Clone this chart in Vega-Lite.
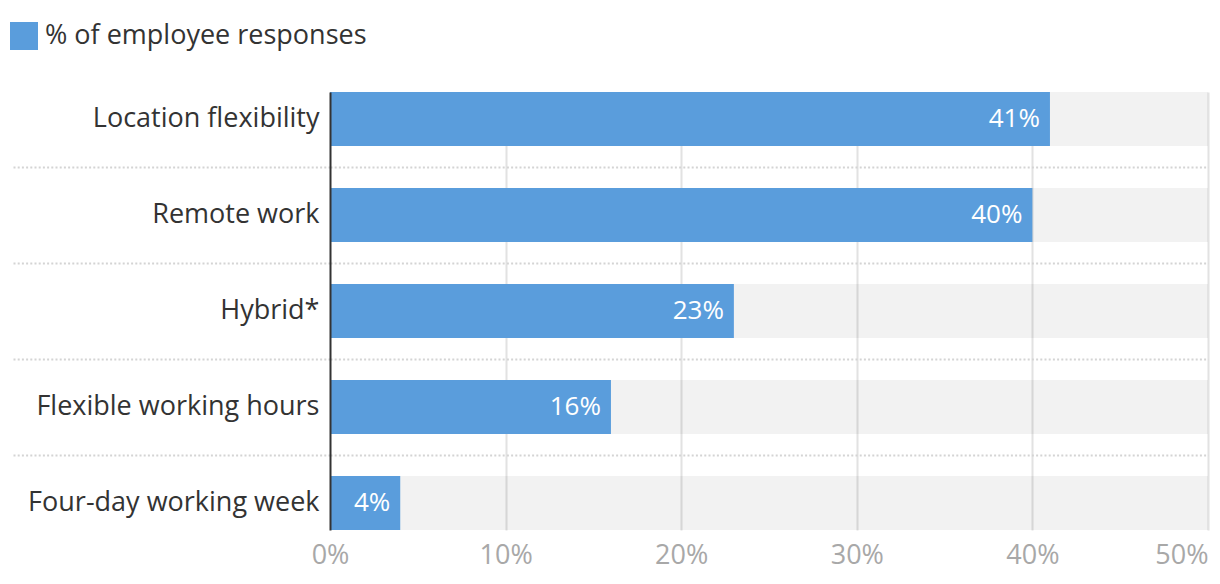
{
  "$schema": "https://vega.github.io/schema/vega-lite/v6.json",
  "width": 878,
  "height": 438,
  "autosize": "none",
  "padding": {"left": 330, "top": 92, "right": 12, "bottom": 54},
  "config": {"view": {"stroke": null}, "font": "Open Sans"},
  "data": {
    "values": [
      {"category": "Location flexibility", "value": 41, "label": "41%"},
      {"category": "Remote work", "value": 40, "label": "40%"},
      {"category": "Hybrid*", "value": 23, "label": "23%"},
      {"category": "Flexible working hours", "value": 16, "label": "16%"},
      {"category": "Four-day working week", "value": 4, "label": "4%"}
    ]
  },
  "encoding": {
    "y": {
      "field": "category",
      "type": "nominal",
      "sort": null,
      "scale": {"paddingInner": 0.4375, "paddingOuter": 0},
      "axis": {
        "title": null,
        "zindex": 1,
        "domain": true,
        "domainColor": "#333333",
        "domainWidth": 2,
        "ticks": true,
        "bandPosition": 1.3889,
        "tickSize": 318,
        "tickColor": "#d4d4d4",
        "tickWidth": 2,
        "tickDash": [2, 2.2],
        "tickOpacity": {"condition": {"test": "datum.index < 1", "value": 1}, "value": 0},
        "grid": true,
        "gridColor": "#d4d4d4",
        "gridWidth": 2,
        "gridDash": [2, 2.2],
        "gridOpacity": {"condition": {"test": "datum.index < 1", "value": 1}, "value": 0},
        "labelFontSize": 27,
        "labelColor": "#333333",
        "labelPadding": -307,
        "labelLimit": 400
      }
    }
  },
  "layer": [
    {
      "mark": {"type": "bar", "color": "#000000", "opacity": 0.05},
      "encoding": {
        "x": {
          "datum": 50,
          "type": "quantitative",
          "scale": {"domain": [0, 50], "nice": false},
          "title": null
        }
      }
    },
    {
      "mark": {"type": "bar"},
      "encoding": {
        "x": {
          "field": "value",
          "type": "quantitative",
          "title": null,
          "axis": {
            "values": [0, 10, 20, 30, 40, 50],
            "labelExpr": "datum.value + '%'",
            "domain": false,
            "ticks": false,
            "grid": true,
            "gridColor": "#e2e2e2",
            "gridWidth": 2,
            "gridOpacity": {"condition": {"test": "datum.value == 0", "value": 0}, "value": 1},
            "labelColor": "#a8a8a8",
            "labelFontSize": 27,
            "labelPadding": 12,
            "labelAlign": {"condition": {"test": "datum.value == 50", "value": "right"}, "value": "center"},
            "labelFlush": false
          }
        },
        "color": {
          "datum": "% of employee responses",
          "scale": {"range": ["#5a9ddc"]},
          "legend": {
            "orient": "none",
            "legendX": -320,
            "legendY": -70,
            "title": null,
            "symbolType": "square",
            "symbolSize": 784,
            "symbolStrokeWidth": 0,
            "labelFontSize": 27,
            "labelColor": "#333333",
            "labelOffset": 7,
            "labelLimit": 500,
            "padding": 0
          }
        }
      }
    },
    {
      "mark": {"type": "text", "align": "right", "dx": -10, "color": "white", "fontSize": 26},
      "encoding": {
        "x": {"field": "value", "type": "quantitative", "title": null},
        "text": {"field": "label"}
      }
    }
  ]
}
